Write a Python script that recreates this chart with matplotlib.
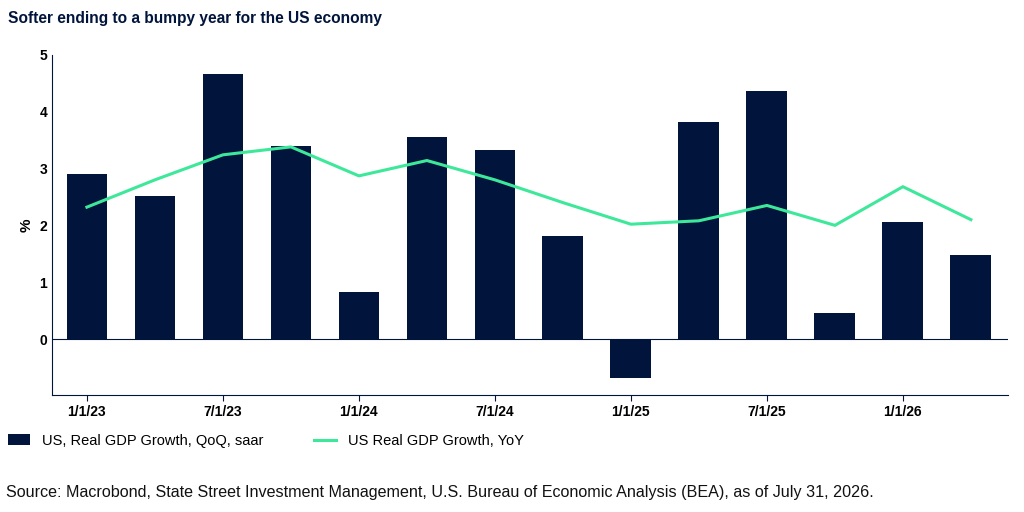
import matplotlib.pyplot as plt
import numpy as np

plt.rcParams["font.family"] = ["Liberation Sans", "DejaVu Sans"]

quarters = np.arange(14)
qoq_saar = [2.9, 2.52, 4.66, 3.4, 0.82, 3.56, 3.32, 1.82, -0.68, 3.82, 4.36, 0.46, 2.06, 1.48]
yoy = [2.32, 2.8, 3.24, 3.38, 2.87, 3.14, 2.8, 2.4, 2.02, 2.08, 2.35, 2.0, 2.68, 2.1]
tick_pos = [0, 2, 4, 6, 8, 10, 12]
tick_labels = ["1/1/23", "7/1/23", "1/1/24", "7/1/24", "1/1/25", "7/1/25", "1/1/26"]

navy = "#00143c"
green = "#3ee89a"

fig = plt.figure(figsize=(10.24, 5.12), dpi=100)
ax = fig.add_axes([0.051, 0.229, 0.933, 0.664])
bars = ax.bar(quarters, qoq_saar, width=0.6, color=navy, label="US, Real GDP Growth, QoQ, saar")
line, = ax.plot(quarters, yoy, color=green, lw=2.2, label="US Real GDP Growth, YoY")
ax.axhline(0, color=navy, lw=0.8)

ax.set_xlim(-0.51, 13.54)
ax.set_ylim(-0.98, 5)
ax.set_yticks(range(0, 6))
ax.set_xticks(tick_pos)
ax.set_xticklabels(tick_labels)
ax.set_ylabel("%", fontweight="bold", fontsize=11)
for lab in ax.get_xticklabels() + ax.get_yticklabels():
    lab.set_fontweight("bold")
    lab.set_fontsize(10)
ax.tick_params(axis="y", length=0)
ax.tick_params(axis="x", length=4, color=navy)
for s in ["top", "right"]:
    ax.spines[s].set_visible(False)
for s in ["left", "bottom"]:
    ax.spines[s].set_color(navy)

fig.text(0.008, 0.955, "Softer ending to a bumpy year for the US economy",
         fontsize=11.2, fontweight="bold", color=navy)
fig.legend([bars, line], [bars.get_label(), line.get_label()],
           loc="lower left", bbox_to_anchor=(-0.005, 0.1), ncol=2, frameon=False,
           fontsize=10.5, handlelength=1.5, columnspacing=3.5)
fig.text(0.006, 0.03,
         "Source: Macrobond, State Street Investment Management, U.S. Bureau of Economic Analysis (BEA), as of July 31, 2026.",
         fontsize=11.6, color="#111111")

fig.savefig("out.png", dpi=100)
